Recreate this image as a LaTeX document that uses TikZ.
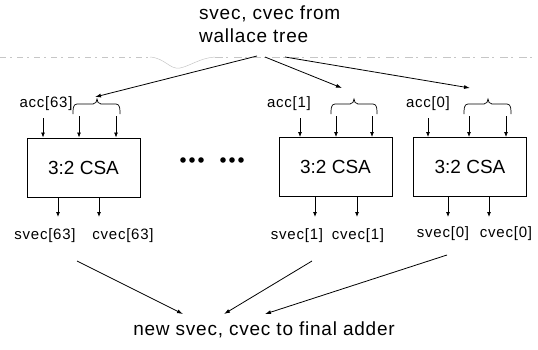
\documentclass[tikz,border=0pt]{standalone}
\usepackage{fontspec}
\setmainfont{Liberation Sans}
\usetikzlibrary{arrows.meta}
\tikzset{
  csa/.style={draw, line width=0.9pt, minimum width=113pt, minimum height=59pt, inner sep=0pt,
    font=\fontsize{19}{22}\selectfont},
  lbl/.style={inner sep=0pt, font=\fontsize{15}{17}\selectfont\addfontfeature{LetterSpace=5}},
  sig/.style={line width=0.8pt, -{Latex[length=5pt,width=4pt]}},
  flow/.style={line width=0.8pt, -{Latex[length=6pt,width=4pt]}},
  brc/.style={line width=0.7pt},
  noise/.style={gray!45, line width=0.5pt},
}
\begin{document}
\begin{tikzpicture}[x=1pt,y=-1pt]
\useasboundingbox (0,0) rectangle (538,349);

% faint rule across the top
\draw[noise, dash pattern=on 6pt off 4pt on 2pt off 5pt] (0,57) -- (150,57);
\draw[noise] (150,57) .. controls (165,58) and (170,70) .. (180,68) .. controls (190,66) and (200,58) .. (215,57);
\draw[noise, dash pattern=on 8pt off 3pt on 2pt off 6pt] (215,57) -- (538,57);

% source and destination labels
\node[inner sep=0pt, align=left, anchor=north west, font=\fontsize{19}{23}\selectfont\addfontfeature{LetterSpace=4}] (src) at (199,6) {svec, cvec from\\wallace tree};
\node[inner sep=0pt, font=\fontsize{19}{22}\selectfont\addfontfeature{LetterSpace=4}] (dst) at (264,330) {new svec, cvec to final adder};

% the three carry-save adders
\node[csa] (b1) at (83.5,167.5) {3:2 CSA};
\node[csa] (b2) at (335.5,167) {3:2 CSA};
\node[csa] (b3) at (470,167) {3:2 CSA};

% ellipsis between the adders
\foreach \x/\n in {183/d1,192/d2,201/d3,223/d4,232/d5,241/d6}
  \fill (\x,160) circle[radius=2.8pt] coordinate (\n);

% input labels
\node[lbl] (a63) at (46,104) {acc[63]};
\node[lbl] (a1) at (289,104) {acc[1]};
\node[lbl] (a0) at (428,104) {acc[0]};

% braces grouping the svec/cvec inputs
\draw[brc] (73,114) to[out=90,in=180] (77,104) -- (93,104) to[out=0,in=-90] (97,99)
  to[out=-90,in=180] (101,104) -- (116,104) to[out=0,in=90] (120,114);
\draw[brc] (331,114) to[out=90,in=180] (335,104) -- (350,104) to[out=0,in=-90] (354,99)
  to[out=-90,in=180] (358,104) -- (373,104) to[out=0,in=90] (377,114);
\draw[brc] (464,114) to[out=90,in=180] (468,104) -- (484,104) to[out=0,in=-90] (488,99)
  to[out=-90,in=180] (492,104) -- (507,104) to[out=0,in=90] (511,114);

% input arrows
\foreach \b/\x/\y in {b1/43/118,b1/79/116,b1/116/116,b2/300/118,b2/336/116,b2/372/116,b3/428/118,b3/469/116,b3/506/116}
  \draw[sig] (\x,\y) -- (\x,0 |- \b.north);

% output arrows and labels
\foreach \b/\x in {b1/58,b1/99,b2/315,b2/357,b3/448,b3/489}
  \draw[sig] (\x,0 |- \b.south) -- (\x,217);
\node[lbl] (s63) at (45,236) {svec[63]};
\node[lbl] (c63) at (123,236) {cvec[63]};
\node[lbl] (s1) at (297,236) {svec[1]};
\node[lbl] (c1) at (358,236) {cvec[1]};
\node[lbl] (s0) at (443,234) {svec[0]};
\node[lbl] (c0) at (506,234) {cvec[0]};

% fan-out from the wallace tree
\coordinate (t1) at (257,56);
\coordinate (t2) at (265,57);
\coordinate (t3) at (285,57);
\coordinate (e1) at (95,97);
\coordinate (e2) at (342,88);
\coordinate (e3) at (470,88);
\draw[flow] (t1) -- (e1);
\draw[flow] (t2) -- (e2);
\draw[flow] (t3) -- (e3);

% fan-in to the final adder
\coordinate (f1) at (77,261);
\coordinate (f2) at (312,261);
\coordinate (f3) at (447,255);
\coordinate (g1) at (183,314);
\coordinate (g2) at (224,314);
\coordinate (g3) at (265,314);
\draw[flow] (f1) -- (g1);
\draw[flow] (f2) -- (g2);
\draw[flow] (f3) -- (g3);
\end{tikzpicture}
\end{document}
